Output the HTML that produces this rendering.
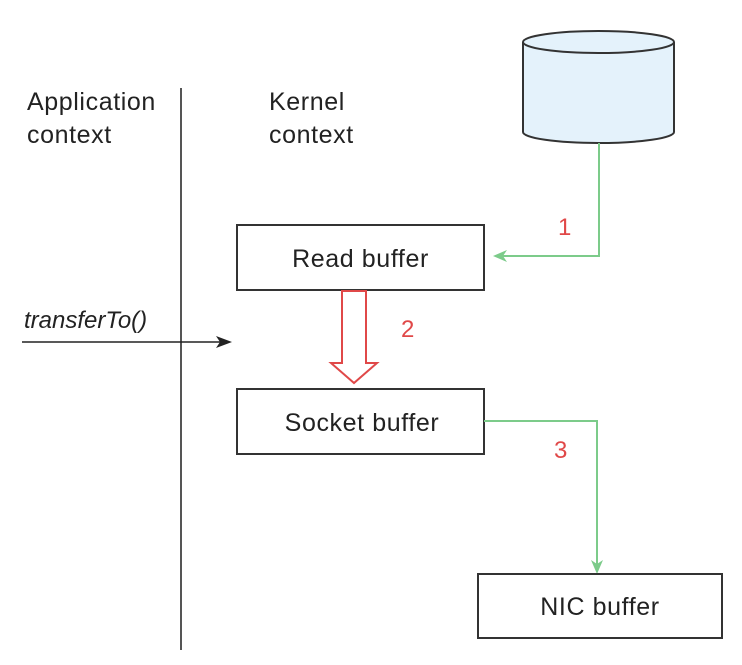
<!DOCTYPE html>
<html><head><style>
body{margin:0;background:#fff;}
svg text{font-family:"Liberation Sans",sans-serif;}
</style></head><body>
<svg width="742" height="660" viewBox="0 0 742 660" xmlns="http://www.w3.org/2000/svg">
<text x="27" y="110" font-size="25" letter-spacing="0.6" fill="#222">Application</text>
<text x="27" y="143" font-size="25" letter-spacing="0.6" fill="#222">context</text>
<text x="269" y="110" font-size="25" letter-spacing="0.6" fill="#222">Kernel</text>
<text x="269" y="143" font-size="25" letter-spacing="0.6" fill="#222">context</text>
<line x1="181" y1="88" x2="181" y2="650" stroke="#555" stroke-width="2"/>
<path d="M523 42 L523 132 A75.5 11 0 0 0 674 132 L674 42" fill="#e4f2fb" stroke="#333" stroke-width="2"/>
<ellipse cx="598.5" cy="42" rx="75.5" ry="11" fill="#e4f2fb" stroke="#333" stroke-width="2"/>
<polyline points="599,143 599,256 500,256" fill="none" stroke="#7ccb8a" stroke-width="2"/>
<polygon points="493,256 507,250 503,256 507,262" fill="#7ccb8a"/>
<text x="558" y="235" font-size="24" fill="#e04848">1</text>
<rect x="237" y="225" width="247" height="65" fill="#fff" stroke="#333" stroke-width="2"/>
<text x="360.5" y="267" font-size="25" letter-spacing="0.6" fill="#222" text-anchor="middle">Read buffer</text>
<polygon points="342,291 366,291 366,363 377,363 354,383 331,363 342,363" fill="#fff" stroke="#e04848" stroke-width="2"/>
<text x="401" y="337" font-size="24" fill="#e04848">2</text>
<text x="24" y="328" font-size="24" font-style="italic" fill="#222">transferTo()</text>
<line x1="22" y1="342" x2="222" y2="342" stroke="#222" stroke-width="1.5"/>
<polygon points="232,342 216,336 220,342 216,348" fill="#222"/>
<rect x="237" y="389" width="247" height="65" fill="#fff" stroke="#333" stroke-width="2"/>
<text x="362" y="431" font-size="25" letter-spacing="0.6" fill="#222" text-anchor="middle">Socket buffer</text>
<polyline points="484,421 597,421 597,567" fill="none" stroke="#7ccb8a" stroke-width="2"/>
<polygon points="597,574 591,560 597,564 603,560" fill="#7ccb8a"/>
<text x="554" y="458" font-size="24" fill="#e04848">3</text>
<rect x="478" y="574" width="244" height="64" fill="#fff" stroke="#333" stroke-width="2"/>
<text x="600" y="615" font-size="25" letter-spacing="0.6" fill="#222" text-anchor="middle">NIC buffer</text>
</svg>
</body></html>
